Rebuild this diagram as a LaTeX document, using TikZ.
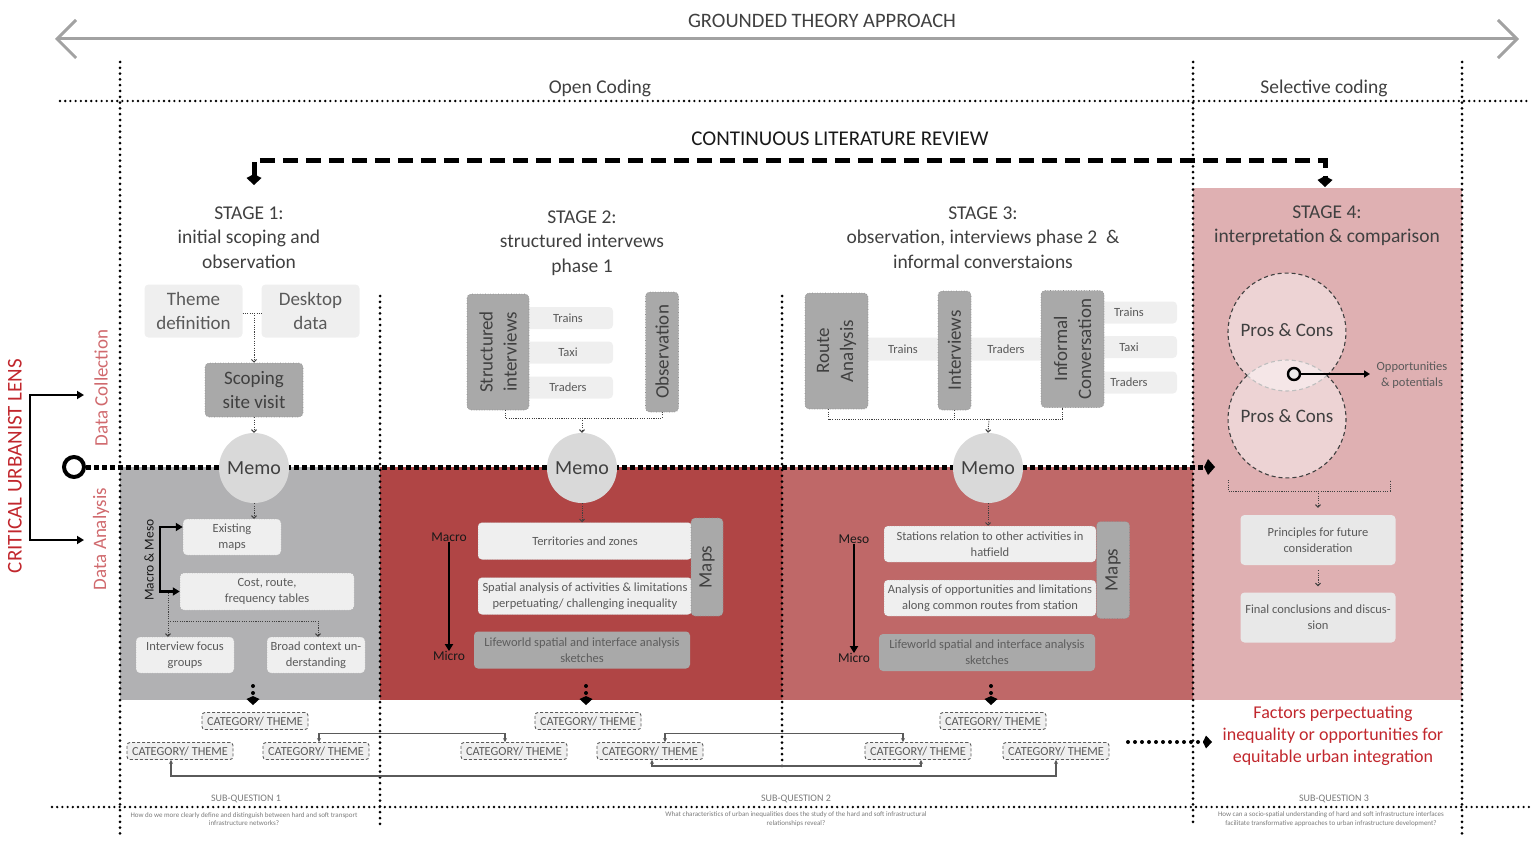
\documentclass[tikz,border=0pt]{standalone}
\usepackage{fontspec}
\setmainfont{Carlito}
\usetikzlibrary{arrows.meta}

\definecolor{ink}{HTML}{404040}
\definecolor{soft}{HTML}{5A5A5A}
\definecolor{faint}{HTML}{7A7A7A}
\definecolor{stgrey}{HTML}{B1B1B3}
\definecolor{stred}{HTML}{B04545}
\definecolor{stmid}{HTML}{BF6868}
\definecolor{stpink}{HTML}{DFB0B2}
\definecolor{boxlight}{HTML}{EFEFEF}
\definecolor{boxpale}{HTML}{E8E8E8}
\definecolor{boxdark}{HTML}{A9A9A9}
\definecolor{memofill}{HTML}{D9D9D9}
\definecolor{lensred}{HTML}{C1272D}
\definecolor{phasered}{HTML}{D06A6E}
\definecolor{axisgrey}{HTML}{A2A2A2}

\newcommand\fsz[2]{\fontsize{#1}{#2}\selectfont}

\begin{document}
\begin{tikzpicture}[x=1pt, y=-1pt,
  every node/.style={inner sep=0pt, text=ink},
  lbox/.style={fill=boxlight, rounded corners=4pt, align=center, text=soft, font=\fsz{12.5}{16}},
  rim/.style={draw=black!35, dotted, line width=0.5pt},
  dbox/.style={fill=boxdark, rounded corners=4pt, draw=black!45, dotted, line width=0.6pt, align=center, text=ink, font=\fsz{19}{24}},
  memo/.style={circle, fill=memofill, minimum size=70pt, font=\fsz{20}{24}, text=ink},
  head/.style={font=\fsz{19.5}{24.5}, align=center, text=ink},
  cat/.style={fill=boxlight, draw=soft, line width=0.9pt, dash pattern=on 3pt off 2pt, rounded corners=3pt, minimum width=106pt, minimum height=17pt, font=\fsz{12.3}{14}, text=soft},
  vdots/.style={line width=3pt, dash pattern=on 0pt off 5.8pt, line cap=round},
  hdots/.style={line width=2.6pt, dash pattern=on 0pt off 5.2pt, line cap=round},
  midline/.style={line width=5pt, dash pattern=on 5pt off 3pt, -{Kite[length=11pt,width=16pt,inset=4pt]}},
  litline/.style={line width=5pt, dash pattern=on 15pt off 8pt},
  stub/.style={line width=4pt, dash pattern=on 0pt off 7pt, line cap=round, -{Kite[length=9pt,width=13pt,inset=3pt]}},
  link/.style={draw=black!75, line width=1pt, dash pattern=on 1.1pt off 1.2pt, -{Straight Barb[length=2.5pt,width=5pt]}},
  catlink/.style={draw=soft, line width=1.1pt, {Stealth[length=4pt,width=4pt]}-{Stealth[length=4pt,width=4pt]}},
  blkarrow/.style={line width=2.4pt, -{Triangle[length=7pt,width=8pt]}},
  lvl/.style={font=\fsz{13.5}{16}, text=black!90},
  pros/.style={font=\fsz{19}{24}, text=ink},
]
\useasboundingbox (0,0) rectangle (1535,843);

% ---------- stage backgrounds ----------
\fill[stgrey] (120,467) rectangle (380,700);
\fill[stred]  (380,467) rectangle (782,700);
\fill[stmid]  (782,467) rectangle (1193,700);
\fill[stpink] (1193,188) rectangle (1462,700);

% ---------- grounded theory axis ----------
\node[font=\fsz{20.5}{24}] (gta) at (822,21) {GROUNDED THEORY APPROACH};
\coordinate (axL) at (55,39);
\coordinate (axR) at (1519,39);
\draw[axisgrey, line width=3pt, {Straight Barb[length=19pt,width=38pt]}-{Straight Barb[length=19pt,width=38pt]}] (axL) -- (axR);

% ---------- coding phases ----------
\coordinate (ocL) at (60,101);
\coordinate (ocR) at (1530,101);
\draw[hdots] (ocL) -- (ocR);
\node[font=\fsz{19.5}{24}] (open) at (600,88) {Open Coding};
\node[font=\fsz{19.5}{24}] (sel) at (1324,88) {Selective coding};

% vertical separators
\coordinate (v1t) at (120,62);   \coordinate (v1b) at (120,838);
\coordinate (v2t) at (380,296);  \coordinate (v2b) at (380,826);
\coordinate (v3t) at (782,296);  \coordinate (v3b) at (782,768);
\coordinate (v4t) at (1193,62);  \coordinate (v4b) at (1193,826);
\coordinate (v5t) at (1462,62);  \coordinate (v5b) at (1462,838);
\draw[vdots] (v1t) -- (v1b);
\draw[vdots] (v2t) -- (v2b);
\draw[vdots] (v3t) -- (v3b);
\draw[vdots] (v4t) -- (v4b);
\draw[vdots] (v5t) -- (v5b);

% sub-question line
\coordinate (sqL) at (52,807);
\coordinate (sqR) at (1530,807);
\draw[hdots] (sqL) -- (sqR);

% ---------- continuous literature review ----------
\node[font=\fsz{21}{24}, text=black!90] (lit) at (840,139) {CONTINUOUS LITERATURE REVIEW};
\coordinate (litA) at (254,185);
\coordinate (litB) at (1325,187);
\draw[litline, {Kite[length=11pt,width=15pt,inset=4pt]}-{Kite[length=11pt,width=15pt,inset=4pt]}]
  (litA) -- (254,160) -- (1325,160) -- (litB);

% ---------- critical urbanist lens ----------
\node[rotate=90, font=\fsz{21}{24}, text=lensred] (lens) at (15,466) {CRITICAL URBANIST LENS};
\node[rotate=90, font=\fsz{19}{22}, text=phasered] (dcol) at (101,388) {Data Collection};
\node[rotate=90, font=\fsz{19}{22}, text=phasered] (dana) at (101,539) {Data Analysis};
\coordinate (dcolIn) at (84,395);
\coordinate (danaIn) at (84,540);
\draw[line width=2.4pt, {Triangle[length=7pt,width=8pt]}-{Triangle[length=7pt,width=8pt]}]
  (dcolIn) -- (30,395) -- (30,540) -- (danaIn);

\node[circle, draw, line width=4pt, minimum size=20pt] (ring) at (74,467) {};
\coordinate (midEnd) at (1215,467);
\draw[midline] (ring.east) -- (midEnd);

% ---------- stage headings ----------
\node[head] (s1) at (249,237.5) {STAGE 1:\\initial scoping and\\observation};
\node[head] (s2) at (582,243) {STAGE 2:\\structured intervews\\phase 1};
\node[head] (s3) at (983,237.5) {STAGE 3:\\observation, interviews phase 2\ \ \&\\informal converstaions};
\node[head] (s4) at (1327,225.5) {STAGE 4:\\interpretation \& comparison};

% ---------- stage 1 ----------
\node[lbox, minimum width=98pt, minimum height=53pt, font=\fsz{19}{24}] (theme) at (193.5,311) {Theme\\definition};
\node[lbox, minimum width=98pt, minimum height=53pt, font=\fsz{19}{24}] (desk) at (310.5,311) {Desktop\\data};
\coordinate (tj) at (254,313);
\draw[link, -] (theme.east |- tj) -- (desk.west |- tj);
\node[dbox, minimum width=98pt, minimum height=54pt] (scop) at (254,390) {Scoping\\site visit};
\draw[link] (tj) -- (scop.north);
\node[memo] (m1) at (254,468) {Memo};
\draw[link] (scop.south) -- (m1.north);

\node[lbox, rim, minimum width=98pt, minimum height=36pt] (exist) at (232,537) {Existing\\maps};
\node[lbox, rim, minimum width=174pt, minimum height=37pt] (cost) at (267,591.5) {Cost, route,\\frequency tables};
\draw[link] (m1.south) -- (m1.south |- exist.north);
\node[rotate=90, lvl] (mm) at (149,560) {Macro \& Meso};
\draw[line width=2.4pt, {Triangle[length=7pt,width=8pt]}-{Triangle[length=7pt,width=8pt]}]
  ([yshift=10pt]exist.west) -| (160,560) |- (cost.west);

\node[lbox, rim, minimum width=98pt, minimum height=36pt] (ifg) at (185,655) {Interview focus\\groups};
\node[lbox, rim, minimum width=98pt, minimum height=36pt] (broad) at (316,655) {Broad context un-\\derstanding};
\coordinate (bk) at (168,593);
\coordinate (bj) at (168,621);
\draw[link] (bk) -- (bk |- ifg.north);
\draw[link] (bj) -| ([xshift=2pt]broad.north);

% ---------- stage 2 ----------
\node[lbox, minimum width=90pt, minimum height=22pt] (tr2) at (568,318) {Trains};
\node[lbox, minimum width=90pt, minimum height=22pt] (tx2) at (568,352.5) {Taxi};
\node[lbox, minimum width=90pt, minimum height=22pt] (td2) at (568,387.5) {Traders};
\node[dbox, rotate=90, minimum width=116pt, minimum height=62pt] (stru) at (498,352) {Structured\\interviews};
\node[dbox, rotate=90, minimum width=120pt, minimum height=33pt] (obs) at (662,352) {Observation};
\coordinate (j2) at (582,418);
\draw[link, -] (stru.west) ++(7,0) -- ++(0,8) -| (obs.west);
\node[memo] (m2) at (582,468) {Memo};
\draw[link] (j2) -- (m2.north);

\node[lbox, rim, minimum width=214pt, minimum height=37pt] (terr) at (585,541) {Territories and zones};
\node[lbox, rim, minimum width=214pt, minimum height=37pt] (spat) at (585,596) {Spatial analysis of activities \& limitations\\perpetuating/ challenging inequality};
\node[dbox, rotate=90, minimum width=98pt, minimum height=32pt] (maps2) at (707,567) {Maps};
\draw[link] (m2.south) -- (m2.south |- terr.north);
\node[dbox, draw=none, minimum width=216pt, minimum height=37pt, font=\fsz{12.5}{16}, text=ink!85] (life2) at (582,650) {Lifeworld spatial and interface analysis\\sketches};
\node[lvl] (mac2) at (449,537) {Macro};
\node[lvl] (mic2) at (449,656) {Micro};
\draw[blkarrow] (mac2.south) -- (mic2.north);

% ---------- stage 3 ----------
\node[lbox, minimum width=80pt, minimum height=23pt] (tr3) at (903,349) {Trains};
\node[lbox, minimum width=80pt, minimum height=23pt] (td3) at (1006,349) {Traders};
\node[lbox, minimum width=84pt, minimum height=22pt] (tr3b) at (1135,312.5) {\hspace{-12pt}Trains};
\node[lbox, minimum width=84pt, minimum height=22pt] (tx3b) at (1135,347) {\hspace{-12pt}Taxi};
\node[lbox, minimum width=84pt, minimum height=22pt] (td3b) at (1135,382.5) {\hspace{-12pt}Traders};
\node[dbox, rotate=90, minimum width=116pt, minimum height=63pt] (route) at (836.5,351) {Route\\Analysis};
\node[dbox, rotate=90, minimum width=119pt, minimum height=33pt] (intv) at (954.5,350.5) {Interviews};
\node[dbox, rotate=90, minimum width=117pt, minimum height=63pt] (infc) at (1072.5,349) {Informal\\Conversation};
\coordinate (j3) at (989,419);
\draw[link, -] (route.west) ++(-8,0) -- ++(0,10) -| ([xshift=-10pt]infc.west);
\draw[link, -] (intv.west) -- (intv.west |- j3);
\node[memo] (m3) at (988,468) {Memo};
\draw[link] (j3) -- (m3.north);

\node[lbox, rim, minimum width=212pt, minimum height=36pt] (stat) at (990,544) {Stations relation to other activities in\\hatfield};
\node[lbox, rim, minimum width=212pt, minimum height=36pt] (anal) at (990,598) {Analysis of opportunities and limitations\\along common routes from station};
\node[dbox, rotate=90, minimum width=97pt, minimum height=33pt] (maps3) at (1113,570) {Maps};
\draw[link] (m3.south) -- (m3.south |- stat.north);
\node[dbox, draw=none, minimum width=216pt, minimum height=37pt, font=\fsz{12.5}{16}, text=ink!85] (life3) at (987,652.5) {Lifeworld spatial and interface analysis\\sketches};
\node[lvl] (mes3) at (854,539) {Meso};
\node[lvl] (mic3) at (854,658) {Micro};
\draw[blkarrow] (mes3.south) -- (mic3.north);

% ---------- stage 4 ----------
\coordinate (pcT) at (1287,332);
\coordinate (pcB) at (1287,419);
\fill[white, opacity=.45] (pcT) circle[radius=59pt];
\fill[white, opacity=.45] (pcB) circle[radius=59pt];
\draw[black!25, line width=1.1pt, dash pattern=on 4pt off 3pt]
  (pcT) ++(227.5:59pt) arc[start angle=227.5, end angle=312.5, radius=59pt];
\draw[black!25, line width=1.1pt, dash pattern=on 4pt off 3pt]
  (pcB) ++(47.5:59pt) arc[start angle=47.5, end angle=132.5, radius=59pt];
\draw[black!75, line width=1.1pt, dash pattern=on 4pt off 3pt]
  (pcT) ++(-47.5:59pt) arc[start angle=-47.5, end angle=227.5, radius=59pt];
\draw[black!75, line width=1.1pt, dash pattern=on 4pt off 3pt]
  (pcB) ++(132.5:59pt) arc[start angle=132.5, end angle=407.5, radius=59pt];
\node[pros] (pc1) at (1287,330) {Pros \& Cons};
\node[pros] (pc2) at (1287,416) {Pros \& Cons};
\node[circle, draw, fill=white!92!black, line width=2.4pt, minimum size=12pt] (opp) at (1294,374) {};
\node[font=\fsz{12.5}{16}, align=center, text=soft] (opptx) at (1412,375) {Opportunities\\\& potentials};
\coordinate (oppEnd) at (1370,374);
\draw[line width=2pt, -{Triangle[length=6pt,width=7pt]}] (opp.east) -- (oppEnd);

\coordinate (b4l) at (1228,480);
\coordinate (b4r) at (1390,480);
\coordinate (b4m) at (1318,491);
\draw[link, -] (b4l) -- ++(0,11) -| (b4r);
\node[lbox, fill=boxpale, minimum width=155pt, minimum height=50pt] (princ) at (1318,540) {Principles for future\\consideration};
\node[lbox, fill=boxpale, minimum width=155pt, minimum height=50pt] (final) at (1318,617.5) {Final conclusions and discus-\\sion};
\draw[link] (b4m) -- ([yshift=7pt]princ.north);
\draw[link, shorten <=5pt] (princ.south) -- ([yshift=6pt]final.north);

% ---------- categories ----------
\node[cat] (c1a) at (255,721) {CATEGORY/ THEME};
\node[cat] (c1b) at (180,751) {CATEGORY/ THEME};
\node[cat] (c1c) at (316,751) {CATEGORY/ THEME};
\node[cat] (c2a) at (588,721) {CATEGORY/ THEME};
\node[cat] (c2b) at (514,751) {CATEGORY/ THEME};
\node[cat] (c2c) at (650,751) {CATEGORY/ THEME};
\node[cat] (c3a) at (993,721) {CATEGORY/ THEME};
\node[cat] (c3b) at (918,751) {CATEGORY/ THEME};
\node[cat] (c3c) at (1056,751) {CATEGORY/ THEME};

\draw[stub] (253,686) -- ([yshift=7pt]c1a.north -| 253,0);
\draw[stub] (586,686) -- ([yshift=7pt]c2a.north -| 586,0);
\draw[stub] (991,686) -- ([yshift=7pt]c3a.north -| 991,0);

\draw[catlink] ([xshift=3pt]c1c.north) -- ++(0,-9) -| ([xshift=-9pt]c2b.north);
\draw[catlink] ([xshift=15pt]c2c.north) -- ++(0,-9) -| ([xshift=-15pt]c3b.north);
\draw[catlink] ([xshift=2pt]c2c.south) -- ++(0,6) -| ([xshift=3pt]c3b.south);
\draw[catlink] ([xshift=-9pt]c1b.south) -- ++(0,16) -| (c3c.south);

% ---------- outcome ----------
\node[font=\fsz{18}{22}, text=lensred, align=center] (fact) at (1333,736) {Factors perpectuating\\inequality or opportunities for\\equitable urban integration};
\coordinate (fa) at (1128,742);
\coordinate (fb) at (1212,742);
\draw[stub] (fa) -- (fb);

% ---------- sub-questions ----------
\node[font=\fsz{10}{12}, text=faint] (sq1) at (246,799) {SUB-QUESTION 1};
\node[font=\fsz{10}{12}, text=faint] (sq2) at (796,799) {SUB-QUESTION 2};
\node[font=\fsz{10}{12}, text=faint] (sq3) at (1334,799) {SUB-QUESTION 3};
\node[font=\fsz{7}{8.6}, text=faint, align=center] (q1) at (244,819) {How do we more clearly define and distinguish between hard and soft transport\\infrastructure networks?};
\node[font=\fsz{7}{8.6}, text=faint, align=center] (q2) at (796,819) {What characteristics of urban inequalities does the study of the hard and soft infrastructural\\relationships reveal?};
\node[font=\fsz{7}{8.6}, text=faint, align=center] (q3) at (1331,819) {How can a socio-spatial understanding of hard and soft infrastructure interfaces\\facilitate transformative approaches to urban infrastructure development?};
\end{tikzpicture}
\end{document}
